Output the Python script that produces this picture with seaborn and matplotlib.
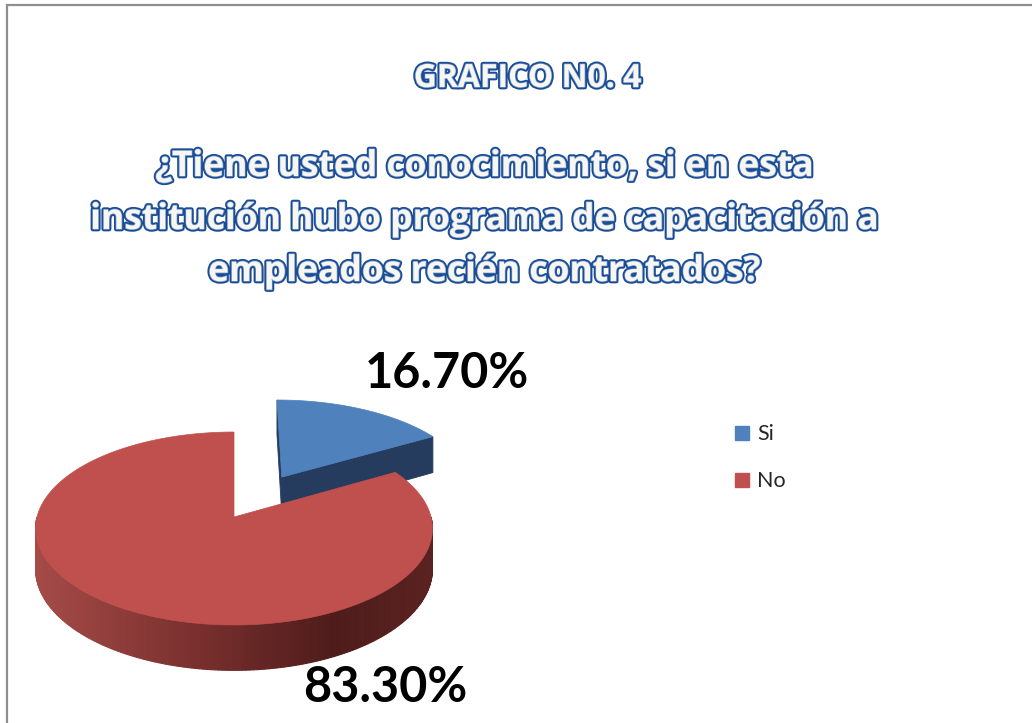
import numpy as np
import matplotlib
matplotlib.use("Agg")
import matplotlib.pyplot as plt
import matplotlib.patheffects as pe
from matplotlib.patches import Polygon, Patch
from matplotlib.colors import LinearSegmentedColormap
import seaborn as sns

# ---- data ----
categories = ["Si", "No"]
percentages = [16.7, 83.3]
value_labels = ["16.70%", "83.30%"]
title_main = "GRAFICO N0. 4"
question_lines = [
    "¿Tiene usted conocimiento, si en esta",
    "institución hubo programa de capacitación a",
    "empleados recién contratados?",
]
explode = [0.51, 0.0]

# ---- style ----
sns.set_theme(style="white")
plt.rcParams["font.family"] = ["Lato", "DejaVu Sans"]

top_colors = ["#4F81BD", "#C0504D"]
side_colors = ["#253C5F", None]
red_side_cmap = LinearSegmentedColormap.from_list(
    "redside", [(0.0, "#A54B48"), (0.4, "#7A302E"), (0.75, "#4E1C1B"), (1.0, "#5A2220")]
)

W, H = 1032, 723
fig = plt.figure(figsize=(W / 100, H / 100), dpi=100)
ax = fig.add_axes([0, 0, 1, 1])
ax.set_xlim(0, W)
ax.set_ylim(H, 0)
ax.axis("off")

# frame
ax.plot([7, 7, W], [H, 5, 5], color="#8E8E8E", lw=1.6, solid_joinstyle="miter")

# ---- simple perspective projection of a tilted disc ----
CX, CY = 234.0, 517.0
RX, RY = 197.0, 95.1
DEPTH = 40.0
K = 0.119


def project(X, Y, Z=0.0):
    p = 1.0 / (1.0 + K * Y)
    return CX + RX * X * p, CY - RY * Y * p + Z * p


def rim(t0, t1, off, z=0.0, n=200):
    t = np.radians(np.linspace(t0, t1, n))
    X = off[0] + np.cos(t)
    Y = off[1] + np.sin(t)
    sx, sy = project(X, Y, z)
    return np.column_stack([sx, sy])


fracs = np.array(percentages) / np.sum(percentages)
# clockwise from 12 o'clock
ends = 90 - 360 * np.cumsum(fracs)
starts = np.concatenate([[90], ends[:-1]])

slices = []
for i, (s, e) in enumerate(zip(starts, ends)):
    t_lo, t_hi = e, s
    mid = np.radians((t_lo + t_hi) / 2)
    off = (explode[i] * np.cos(mid), explode[i] * np.sin(mid))
    slices.append((t_lo, t_hi, off))

# Blue slice (back, exploded)
t_lo, t_hi, off = slices[0]
apex_t = np.array(project(off[0], off[1], 0))
apex_b = np.array(project(off[0], off[1], DEPTH))
for ang in (t_hi, t_lo):
    a = np.radians(ang)
    e_t = np.array(project(off[0] + np.cos(a), off[1] + np.sin(a), 0))
    e_b = np.array(project(off[0] + np.cos(a), off[1] + np.sin(a), DEPTH))
    ax.add_patch(Polygon([apex_t, e_t, e_b, apex_b], closed=True,
                         facecolor=side_colors[0], edgecolor=side_colors[0], lw=0.6))
top = np.vstack([apex_t, rim(t_lo, t_hi, off)])
ax.add_patch(Polygon(top, closed=True, facecolor=top_colors[0],
                     edgecolor=top_colors[0], lw=0.5))

# Red slice: front outer wall with shading
t_lo, t_hi, off = slices[1]
wall_t = np.linspace(180, 360, 181)
xs_all = project(np.cos(np.radians(wall_t)), np.sin(np.radians(wall_t)))[0]
xmin, xmax = xs_all.min(), xs_all.max()
for a0, a1 in zip(wall_t[:-1], wall_t[1:]):
    up = rim(a0, a1, off, 0, n=3)
    dn = rim(a1, a0, off, DEPTH, n=3)
    xm = (up[:, 0].mean() - xmin) / (xmax - xmin)
    c = red_side_cmap(xm)
    ax.add_patch(Polygon(np.vstack([up, dn]), closed=True, facecolor=c,
                         edgecolor=c, lw=0.8))
apex_t = np.array(project(off[0], off[1], 0))
top = np.vstack([apex_t, rim(t_lo, t_hi, off, n=600)])
ax.add_patch(Polygon(top, closed=True, facecolor=top_colors[1],
                     edgecolor=top_colors[1], lw=0.5))

# ---- value labels ----
label_pos = [(447, 373), (385, 687)]
for txt, (x, y) in zip(value_labels, label_pos):
    ax.text(x, y, txt, ha="center", va="center", fontsize=35,
            fontweight="bold", color="black")

# ---- titles with outlined lettering ----
outline = [
    pe.withSimplePatchShadow(offset=(1.5, -1.5), shadow_rgbFace="#7F8FA8", alpha=0.45),
    pe.Stroke(linewidth=3.4, foreground="#1A4B93"),
    pe.Stroke(linewidth=1.0, foreground="#6B92CC"),
    pe.Normal(),
]
title_font = ["Open Sans", "DejaVu Sans"]
ax.text(528, 87, title_main, ha="center", va="baseline", fontsize=23,
        fontweight="bold", color="#F7F6F0", family=title_font,
        path_effects=outline)
for line, yb in zip(question_lines, [176, 229, 281]):
    ax.text(484, yb, line, ha="center", va="baseline", fontsize=25.5,
            fontweight="bold", color="#F7F6F0", family=title_font,
            path_effects=outline)

# ---- legend ----
handles = [Patch(facecolor=c, edgecolor=c) for c in top_colors]
leg = ax.legend(handles, categories, loc="upper left",
                bbox_to_anchor=(716 / W, 1 - 405 / H), frameon=False,
                fontsize=15.5, handlelength=0.62, handleheight=0.62,
                handletextpad=0.4, labelspacing=1.25)

fig.savefig("out.png", dpi=100, facecolor="white")
